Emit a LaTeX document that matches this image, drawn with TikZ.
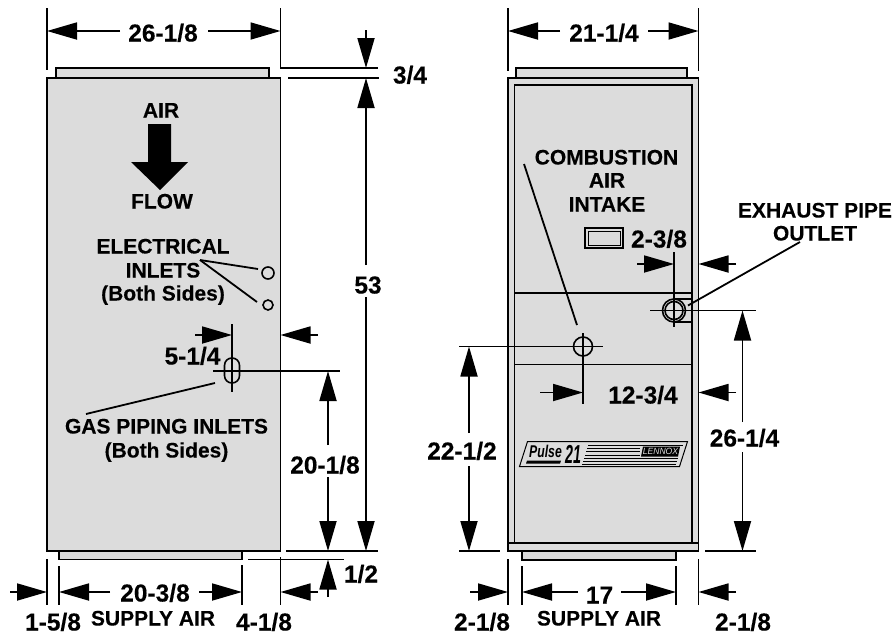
\documentclass[tikz,border=0pt]{standalone}
\usepackage{fontspec}
\setmainfont{Liberation Sans}[BoldFeatures={FakeBold=0.25}]
\usetikzlibrary{arrows.meta}
\definecolor{panel}{HTML}{DCDCDC}
\tikzset{
  x=1pt,y=-1pt,
  outline/.style={draw=black,line width=1.8pt,fill=panel},
  thin line/.style={draw=black,line width=1.8pt},
  dimarrow/.style={draw=black,line width=1.8pt,-{Triangle[length=30pt,width=17pt]}},
  lbl/.style={inner sep=0pt,align=center,text height=15pt,text depth=0pt,font=\fontsize{21}{24}\selectfont\bfseries},
  dimtxt/.style={inner sep=0pt,align=center,text height=17pt,text depth=0pt,font=\fontsize{24.5}{28}\selectfont\bfseries},
}
\newcommand\DimLine[3]{\coordinate (#1s) at (#2);\coordinate (#1e) at (#3);\draw[dimarrow] (#1s) -- (#1e);}
\newcommand\ExtLine[3]{\coordinate (#1s) at (#2);\coordinate (#1e) at (#3);\draw[thin line] (#1s) -- (#1e);}
\begin{document}
\begin{tikzpicture}
\useasboundingbox (0,0) rectangle (895,635);
% ===== left unit =====
\draw[outline] (56,68) rectangle (269,78);
\draw[outline] (59,551) rectangle (242,559.5);
\draw[outline] (47,78) rectangle (280.5,551);
\fill[black] (148,124) -- (171,124) -- (171,162) -- (188,162) -- (160,190) -- (131,162) -- (148,162) -- cycle;
\node[lbl] (air) at (161,110) {AIR};
\node[lbl] (flow) at (162,201) {FLOW};
\node[lbl] (elec) at (163,246) {ELECTRICAL};
\node[lbl] (inl) at (163,270) {INLETS};
\node[lbl] (both1) at (163,293) {(Both Sides)};
\node[lbl] (gas) at (166.5,426) {GAS PIPING INLETS};
\node[lbl] (both2) at (166.5,450) {(Both Sides)};
\node[draw,line width=1.6pt,circle,minimum size=12pt,inner sep=0pt] (e1) at (268,273) {};
\node[draw,line width=1.6pt,circle,minimum size=10pt,inner sep=0pt] (e2) at (268,305) {};
\coordinate (eleclead) at (200,260);
\draw[thin line] (eleclead) -- (258,269);
\draw[thin line] (eleclead) -- (257,302);
\node[draw,line width=1.6pt,rounded corners=7.4pt,minimum width=15pt,minimum height=25pt,inner sep=0pt] (slot) at (232,370.5) {};
\ExtLine{gl}{86,414}{215,383}
% dims left
\ExtLine{a}{47,8}{47,70}
\coordinate (b1) at (280.5,8);\coordinate (b2) at (280.5,68);\coordinate (b3) at (378,68);
\draw[thin line] (b1) -- (b2) -- (b3);
\ExtLine{c}{288,78}{379,78}
\DimLine{d1}{120,31}{47,31}
\DimLine{d2}{208,31}{280.5,31}
\node[dimtxt] (t26) at (163,33) {26-1/8};
\DimLine{d3}{366,30}{366,68}
\node[dimtxt] (t34) at (410,75) {3/4};
\DimLine{d4}{366,265}{366,78}
\DimLine{d5}{366,297}{366,551}
\node[dimtxt] (t53) at (368,285) {53};
\ExtLine{f}{286,551}{378,551}
\ExtLine{g}{248,559.5}{344,559.5}
\ExtLine{h}{213,371}{340,371}
\ExtLine{i}{232,324}{232,392}
\DimLine{d6}{328,445}{328,371}
\DimLine{d7}{328,477}{328,551}
\node[dimtxt] (t20) at (325,465) {20-1/8};
\DimLine{d8}{328,597}{328,559.5}
\node[dimtxt] (t12) at (361,574) {1/2};
\DimLine{d9}{195,335}{232,335}
\DimLine{d10}{318,335}{280.5,335}
\node[dimtxt] (t5) at (192.5,356) {5-1/4};
\ExtLine{j}{47,559}{47,605}
\ExtLine{k}{59,566}{59,605}
\ExtLine{l}{242,565}{242,605}
\ExtLine{m}{280.5,557}{280.5,605}
\DimLine{d11}{10,592}{47,592}
\DimLine{d12}{110,592}{59,592}
\DimLine{d13}{199,592}{242,592}
\DimLine{d14}{318,592}{280.5,592}
\node[dimtxt] (t203) at (155,593) {20-3/8};
\node[lbl] (sa1) at (153,618) {SUPPLY AIR};
\node[dimtxt] (t158) at (53,622) {1-5/8};
\node[dimtxt] (t418) at (264,622) {4-1/8};
% ===== right unit =====
\draw[outline] (516,68) rectangle (687,78);
\draw[outline] (522,551) rectangle (676,560);
\draw[outline] (508,78) rectangle (698.5,551);
\draw[outline] (514.5,85) rectangle (692,543);
\draw[outline] (508,543) rectangle (698.5,551);
\draw[thin line] (514.5,293) -- (692,293);
\draw[thin line] (514.5,364.5) -- (692,364.5);
% exhaust
\draw[thin line] (692,299) -- (675,299);
\draw[thin line] (692,322) -- (675,322);
\node[draw,fill=panel,line width=1.6pt,circle,minimum size=23pt,inner sep=0pt] (ex1) at (674,310.5) {};
\node[draw,line width=1.6pt,circle,minimum size=18pt,inner sep=0pt] (ex2) at (674,310.5) {};
\ExtLine{n}{674,252}{674,327}
\ExtLine{o}{650,310.5}{756,310.5}
\DimLine{d15}{637,264}{674,264}
\DimLine{d16}{736,264}{698.5,264}
\node[dimtxt] (t238) at (659,239) {2-3/8};
\draw[thin line] (585,228) rectangle (623,248);
\draw[draw=black,line width=1pt] (588.5,231) rectangle (620,245);
\node[lbl] (comb) at (606.5,157) {COMBUSTION};
\node[lbl] (air2) at (607,180) {AIR};
\node[lbl] (intake) at (607,204) {INTAKE};
\node[lbl] (exh) at (815,210) {EXHAUST PIPE};
\node[lbl] (out) at (815,233) {OUTLET};
\ExtLine{p}{800,242}{688,305.5}
\ExtLine{q}{524,164}{577,325}
\node[draw,line width=1.6pt,circle,minimum size=19pt,inner sep=0pt] (ca) at (583,346.5) {};
\ExtLine{r}{583,333}{583,404}
\ExtLine{s}{459,346.5}{602.5,346.5}
\DimLine{d17}{540,392.5}{583,392.5}
\DimLine{d18}{736,392.5}{698.5,392.5}
\node[dimtxt] (t1234) at (643,395) {12-3/4};
\DimLine{d19}{469,433}{469,346.5}
\DimLine{d20}{469,466}{469,551}
\node[dimtxt] (t221) at (462,451) {22-1/2};
\ExtLine{t}{459,551}{500,551}
\DimLine{d21}{742.5,422}{742.5,310.5}
\DimLine{d22}{742.5,452}{742.5,551}
\node[dimtxt] (t261) at (744.5,438) {26-1/4};
\ExtLine{u}{705,551}{756,551}
\DimLine{d23}{560,31}{508,31}
\DimLine{d24}{648,31}{698.5,31}
\node[dimtxt] (t211) at (604,33) {21-1/4};
\ExtLine{v}{508,8}{508,71}
\ExtLine{w}{698.5,8}{698.5,71}
\ExtLine{x1}{508,559}{508,605}
\ExtLine{x2}{522,566}{522,605}
\ExtLine{x3}{676,566}{676,605}
\ExtLine{x4}{698.5,559}{698.5,605}
\DimLine{d25}{470,592}{508,592}
\DimLine{d26}{578,592}{522,592}
\DimLine{d27}{621,592}{676,592}
\DimLine{d28}{736,592}{698.5,592}
\node[dimtxt] (t17) at (599.5,595) {17};
\node[lbl] (sa2) at (599,618) {SUPPLY AIR};
\node[dimtxt] (t218a) at (482,622) {2-1/8};
\node[dimtxt] (t218b) at (743,622) {2-1/8};
% logo
\draw[draw=black,line width=1pt] (527.5,441.5) -- (687.5,441.5) -- (679.5,466.5) -- (519.5,466.5) -- cycle;
\node[inner sep=0pt,font=\fontsize{17}{18}\selectfont\bfseries\itshape] (pulse) at (545.5,451.5) {\scalebox{.72}[1]{Pulse}};
\node[inner sep=0pt,font=\fontsize{26}{26}\selectfont\bfseries\itshape] (n21) at (573,454) {\scalebox{.55}[1]{21}};
\fill[black] (527,460.5) -- (561,460.5) -- (560,463.5) -- (526,463.5) -- cycle;
\foreach \yy/\xa/\xb in {445/588/683,448.3/587/640,451.7/586/640,455/585/640,458.3/584/678,461/583/677,464/582/676}
  \draw[black,line width=0.9pt] (\xa,\yy) -- (\xb,\yy);
\fill[black] (643,446.5) -- (680,446.5) -- (678,456.5) -- (641,456.5) -- cycle;
\node[inner sep=0pt,text=panel,font=\fontsize{9}{10}\selectfont\itshape] (lennox) at (660.5,451.5) {\scalebox{.95}[1]{LENNOX}};
\end{tikzpicture}
\end{document}
